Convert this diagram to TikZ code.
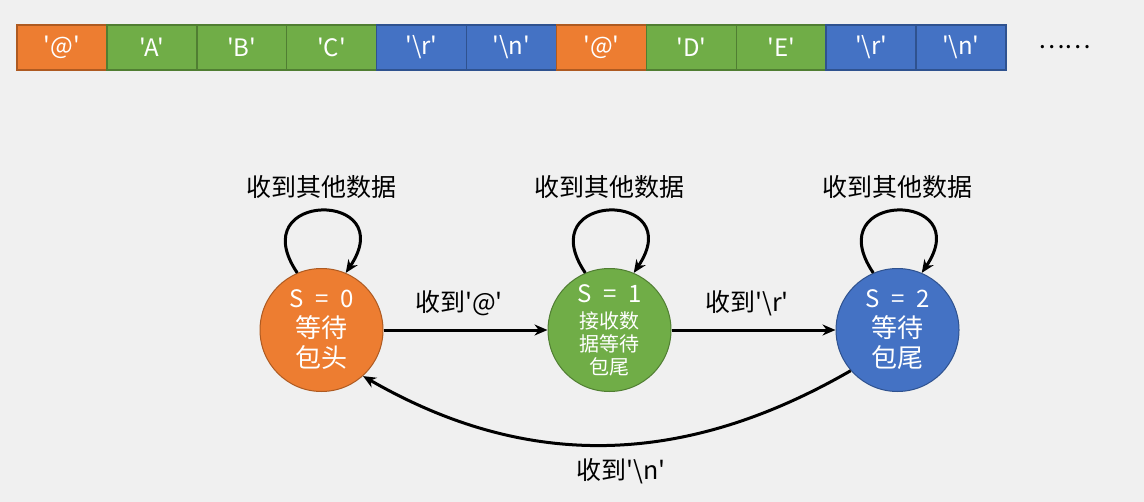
\documentclass[tikz,border=0pt]{standalone}
\usepackage{fontspec}
\newfontfamily\yahei{Noto Sans CJK SC}
\usetikzlibrary{positioning,arrows.meta}

\definecolor{bggray}{HTML}{F0F0F0}
\definecolor{orangefill}{HTML}{ED7D31}
\definecolor{orangeline}{HTML}{AE5A21}
\definecolor{greenfill}{HTML}{70AD47}
\definecolor{greenline}{HTML}{507E32}
\definecolor{bluefill}{HTML}{4472C4}
\definecolor{blueline}{HTML}{2F528F}

\tikzset{
  cell/.style={draw, line width=0.7pt, minimum width=44.95pt, minimum height=22.5pt,
    inner sep=0pt, outer sep=0pt, text=white, font=\yahei\fontsize{12}{14}\selectfont},
  head/.style={cell, fill=orangefill, draw=orangeline},
  body/.style={cell, fill=greenfill, draw=greenline},
  tail/.style={cell, fill=bluefill, draw=blueline},
  state/.style={circle, minimum size=61.5pt, inner sep=0pt, line width=0.5pt,
    text=white, align=center, font=\yahei\fontsize{13}{15}\selectfont},
  lbl/.style={font=\yahei\fontsize{12.5}{15}\selectfont, text=black},
  selfloop/.style={out=124, in=56, distance=50pt},
}
\newcommand{\stateno}[1]{{\fontsize{12}{14}\selectfont S\enspace=\enspace#1}}

\begin{document}
\begin{tikzpicture}[->,>={Stealth[length=6.5pt,width=5.5pt]},line width=1.5pt,
    x=0.5pt,y=0.5pt,node distance=144pt]
      \fill[bggray] (0,0) rectangle (1144,-502);
      \useasboundingbox (0,0) rectangle (1144,-502);
      % the byte stream
      \node[head, anchor=west] (c1) at (17,-47.5) {'@'};
      \node[body, right=0pt of c1] (c2) {'A'};
      \node[body, right=0pt of c2] (c3) {'B'};
      \node[body, right=0pt of c3] (c4) {'C'};
      \node[tail, right=0pt of c4] (c5) {'\textbackslash r'};
      \node[tail, right=0pt of c5] (c6) {'\textbackslash n'};
      \node[head, right=0pt of c6] (c7) {'@'};
      \node[body, right=0pt of c7] (c8) {'D'};
      \node[body, right=0pt of c8] (c9) {'E'};
      \node[tail, right=0pt of c9] (c10) {'\textbackslash r'};
      \node[tail, right=0pt of c10] (c11) {'\textbackslash n'};
      \node[lbl, right=12pt of c11] (more) {……};
      % the states
      \node[state, fill=orangefill, draw=orangeline] (s0) at (321.5,-330)
        {\stateno{0}\\等待\\包头};
      \node[state, fill=greenfill, draw=greenline, font=\yahei\fontsize{10}{11.5}\selectfont]
        (s1) [right of=s0] {\stateno{1}\\[1.5pt]接收数\\据等待\\包尾};
      \node[state, fill=bluefill, draw=blueline] (s2) [right of=s1]
        {\stateno{2}\\等待\\包尾};
      \path (s0) edge node[lbl, above=3pt, pos=0.46] {收到'@'} (s1)
      (s1) edge node[lbl, above=3pt, pos=0.46] {收到'\textbackslash r'} (s2)
      (s2.221) edge[out=210, in=330] node[lbl, below=3pt, pos=0.47] {收到'\textbackslash n'} (s0.312);
      \path (s0.113) edge[selfloop] node[lbl, above=2pt] {收到其他数据} (s0.67)
      (s1.113) edge[selfloop] node[lbl, above=2pt] {收到其他数据} (s1.67)
      (s2.113) edge[selfloop] node[lbl, above=2pt] {收到其他数据} (s2.67);
    \end{tikzpicture}
\end{document}
